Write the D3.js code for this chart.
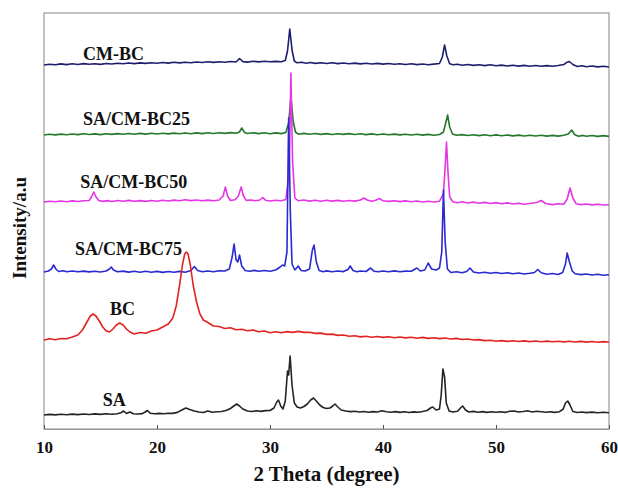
<!DOCTYPE html>
<html>
<head>
<meta charset="utf-8">
<script src="https://cdn.jsdelivr.net/npm/d3@7"></script>
<style>
  html, body { margin: 0; padding: 0; background: #fff; }
  svg { display: block; }
  text { font-family: "Liberation Serif", "Times New Roman", serif; font-weight: bold; fill: #111; }
</style>
</head>
<body>
<svg id="chart" width="618" height="492"></svg>
<script>
// 2 theta tick labels
const xTicks = [10, 20, 30, 40, 50, 60];

// series names, top to bottom
const names = ['CM-BC', 'SA/CM-BC25', 'SA/CM-BC50', 'SA/CM-BC75', 'BC', 'SA'];

// vertical offset of each pattern (a.u.)
const offsets = [364, 294, 227, 157, 89, 14];

// [2theta, intensity above offset]
const cmbc = [
  [10,0],[10.5,0.8],[11,0.2],[11.5,1.1],[12,0.4],[12.5,1.2],[13,0.5],[13.5,1.4],[14,0.7],[14.5,1.3],
  [15,0.6],[15.5,1.5],[16,1.0],[16.5,1.8],[17,1.2],[17.5,2.0],[18,1.4],[18.5,2.1],[19,1.6],[19.5,2.3],
  [20,1.7],[20.5,2.5],[21,1.9],[21.5,2.7],[22,2.1],[22.5,2.8],[23,2.3],[23.5,3.0],[24,2.5],[24.5,3.2],
  [25,2.6],[25.5,3.3],[26,2.8],[26.5,3.5],[27,3.0],[27.3,6.5],[27.6,3.4],[28,2.9],[28.5,3.7],[29,3.1],
  [29.5,3.8],[30,3.2],[30.5,3.6],[31,3.3],[31.35,4.5],[31.55,14],[31.75,36],[31.95,15],[32.15,4],[32.4,2.2],
  [32.8,2.8],[33.2,1.8],[33.6,2.5],[34,1.6],[34.5,2.3],[35,1.5],[35.5,2.2],[36,1.4],[36.5,2.0],[37,1.3],
  [37.5,1.9],[38,1.1],[38.5,1.7],[39,1.0],[39.5,1.6],[40,0.9],[40.5,1.5],[41,0.7],[41.5,1.3],[42,0.5],
  [42.5,1.2],[43,0.4],[43.5,1.0],[44,0.3],[44.5,0.9],[45,1.5],[45.25,8],[45.45,20],[45.65,9],[45.9,1.2],
  [46.2,0.2],[46.6,0.8],[47,-0.2],[47.5,0.5],[48,-0.4],[48.5,0.3],[49,-0.6],[49.5,0.2],[50,-0.8],[50.5,-0.1],
  [51,-1.0],[51.5,-0.3],[52,-1.1],[52.5,-0.4],[53,-1.2],[53.5,-0.5],[54,-1.3],[54.5,-0.6],[55,-1.2],[55.5,-0.5],
  [56,0.5],[56.3,2.8],[56.5,3.5],[56.8,0.5],[57.2,-1.5],[57.6,-0.8],[58,-1.7],[58.5,-1.0],[59,-1.9],[59.5,-1.2],[60,-2.0]
];

const sacmbc25 = [
  [10,0],[10.5,0.7],[11,0.1],[11.5,0.9],[12,0.3],[12.5,1.0],[13,0.4],[13.5,1.2],[14,0.5],[14.5,1.1],
  [15,0.4],[15.5,1.3],[16,0.6],[16.5,1.4],[17,0.7],[17.5,1.5],[18,0.8],[18.5,1.6],[19,0.9],[19.5,1.7],
  [20,1.0],[20.5,1.8],[21,1.1],[21.5,1.9],[22,1.2],[22.5,2.0],[23,1.3],[23.5,2.1],[24,1.4],[24.5,2.2],
  [25,1.5],[25.5,2.3],[26,1.6],[26.5,2.4],[27,1.7],[27.3,3],[27.5,7],[27.75,2.5],[28,1.5],[28.5,2.3],
  [29,1.4],[29.5,2.2],[30,1.3],[30.5,2.1],[31,1.4],[31.4,2.5],[31.65,12],[31.85,38],[32.05,14],[32.25,3],
  [32.5,0.8],[33,1.6],[33.5,0.7],[34,1.5],[34.5,0.6],[35,1.4],[35.5,0.5],[36,1.3],[36.5,0.6],[37,1.4],
  [37.5,0.5],[38,1.2],[38.5,0.4],[39,1.1],[39.5,0.3],[40,1.0],[40.5,0.2],[41,0.9],[41.5,0.1],[42,0.8],
  [42.5,0],[43,0.7],[43.5,-0.1],[44,0.6],[44.5,-0.2],[45,0.5],[45.35,3],[45.55,12],[45.72,20],[45.9,8],
  [46.15,1],[46.5,-0.3],[47,0.4],[47.5,-0.5],[48,0.3],[48.5,-0.6],[49,0.2],[49.5,-0.7],[50,0.1],[50.5,-0.8],
  [51,0],[51.5,-0.9],[52,-0.1],[52.5,-1.0],[53,-0.2],[53.5,-1.0],[54,-0.3],[54.5,-1.1],[55,-0.4],[55.5,-1.1],
  [56,-0.3],[56.4,1],[56.7,5],[56.95,0.5],[57.3,-1.2],[57.7,-0.4],[58,-1.3],[58.5,-0.5],[59,-1.4],[59.5,-0.6],[60,-1.4]
];

const sacmbc50 = [
  [10,0],[10.5,0.8],[11,0.2],[11.5,1.0],[12,0.3],[12.5,1.1],[13,0.5],[13.5,1.3],[14,1.5],[14.2,5],
  [14.4,10],[14.6,5],[14.85,1.5],[15.2,0.6],[15.6,1.4],[16,0.5],[16.5,1.5],[17,0.8],[17.5,1.6],[18,0.7],
  [18.5,1.4],[19,0.6],[19.5,1.5],[20,0.8],[20.5,1.7],[21,1.0],[21.5,1.9],[22,1.2],[22.5,2.2],[23,1.4],
  [23.5,2.0],[24,1.2],[24.5,1.9],[25,1.3],[25.5,2.0],[25.85,6],[26.05,15],[26.25,6],[26.5,1.5],[26.9,2.2],
  [27.2,6],[27.45,15],[27.65,6],[27.9,1.6],[28.3,2.0],[28.7,1.2],[29.1,2.0],[29.35,4.5],[29.6,1.8],[30,1.0],
  [30.5,1.8],[31,1.2],[31.4,2.5],[31.7,30],[31.85,129],[32.0,40],[32.2,4],[32.5,1.2],[33,2.0],[33.5,0.9],
  [34,1.8],[34.5,0.8],[35,1.7],[35.5,0.9],[36,1.6],[36.5,0.8],[37,1.5],[37.5,0.9],[38,2.0],[38.3,4],
  [38.6,2.0],[39,0.8],[39.4,2.0],[39.7,3.5],[40,1.2],[40.5,0.6],[41,1.3],[41.5,0.4],[42,1.1],[42.5,0.2],
  [43,1.0],[43.5,0],[44,0.8],[44.5,0],[45,0.8],[45.35,8],[45.5,35],[45.62,60],[45.75,30],[45.9,5],
  [46.2,0],[46.6,-0.8],[47,0.2],[47.5,-1.0],[48,-0.1],[48.5,-1.3],[49,-0.4],[49.5,-1.5],[50,-0.6],[50.5,-1.8],
  [51,-0.9],[51.5,-2.0],[52,-1.2],[52.5,-2.2],[53,-1.5],[53.6,-0.5],[54,1.5],[54.4,-1.5],[55,-2.6],[55.5,-1.8],
  [56,-2.2],[56.3,3],[56.55,14],[56.8,4],[57.1,-1.8],[57.5,-2.6],[58,-2.0],[58.5,-2.9],[59,-2.2],[59.5,-3.0],[60,-2.8]
];

const sacmbc75 = [
  [10,0],[10.4,1.0],[10.65,3],[10.85,7],[11.05,3],[11.3,0.5],[11.7,1.2],[12,0.3],[12.5,1.0],[13,0.2],
  [13.5,0.9],[14,0.1],[14.5,0.8],[15,0],[15.5,1.0],[15.8,3],[15.95,5],[16.15,2],[16.5,0.2],[17,0.9],
  [17.5,-0.1],[18,0.8],[18.5,-0.2],[19,0.7],[19.5,-0.3],[20,0.6],[20.5,-0.4],[21,0.5],[21.5,-0.3],[22,0.6],
  [22.5,-0.2],[23,1.5],[23.3,5.5],[23.6,1.5],[24,0.2],[24.5,1.0],[25,0.3],[25.5,1.2],[26,1.0],[26.4,3],
  [26.65,15],[26.82,28],[27.0,12],[27.15,10],[27.3,17],[27.5,6],[27.8,1.5],[28.2,0.8],[28.6,1.6],[29,0.7],
  [29.5,1.5],[30,0.8],[30.5,2.0],[30.9,5],[31.1,7],[31.3,6],[31.5,20],[31.65,154],[31.8,60],[31.95,8],
  [32.2,2],[32.5,6],[32.75,1.5],[33.1,1.0],[33.5,3],[33.75,22],[33.9,27],[34.1,10],[34.35,1.5],[34.7,0.3],
  [35,1.1],[35.5,0.2],[36,1.0],[36.5,0.4],[36.9,2.5],[37.1,6],[37.35,1.5],[37.7,0.3],[38,1.0],[38.5,0.5],
  [38.9,4],[39.2,0.8],[39.6,0.2],[40,1.0],[40.5,0.3],[41,1.1],[41.5,0.2],[42,0.9],[42.5,0.8],[43.0,4],
  [43.3,1.0],[43.7,2],[44.0,9],[44.3,3],[44.7,2],[45.0,4],[45.2,20],[45.35,82],[45.5,30],[45.7,3],
  [46,-0.5],[46.5,0.3],[47,-0.8],[47.4,0.5],[47.7,4],[48,0],[48.5,-1.0],[49,-0.2],[49.5,-1.2],[50,-0.5],
  [50.5,-1.5],[51,-0.8],[51.5,-1.8],[52,-1.0],[52.5,-2.0],[53,-1.3],[53.4,-0.5],[53.7,2.5],[54,-0.8],[54.5,-2.2],
  [55,-1.5],[55.5,-2.5],[55.9,-0.5],[56.15,8],[56.3,19],[56.5,10],[56.75,1],[57,-1.8],[57.5,-2.6],[58,-2.0],
  [58.5,-3.0],[59,-2.3],[59.5,-3.2],[60,-2.8]
];

const bc = [
  [10,0],[10.5,1.2],[11,0.3],[11.5,1.5],[12,1.2],[12.5,3],[13,5],[13.4,10],[13.8,18],[14.1,24],
  [14.35,26],[14.6,24],[14.9,19],[15.2,13],[15.5,9],[15.8,8],[16.1,11],[16.4,15],[16.7,17],[17.0,15],
  [17.3,11],[17.6,8],[18.0,6],[18.5,7.5],[19.0,6.8],[19.5,9],[20,10],[20.5,13],[21,16],[21.4,22],
  [21.7,34],[22.0,55],[22.25,75],[22.45,86],[22.6,88],[22.75,86],[22.95,75],[23.2,55],[23.5,38],[23.8,26],
  [24.1,20],[24.5,17.5],[25,14],[25.5,13.5],[26,11.5],[26.5,12.2],[27,10.2],[27.5,10.8],[28,9.2],[28.5,9.9],
  [29,8.3],[29.5,9.0],[30,7.3],[30.5,8.2],[31,7.2],[31.5,8.4],[32,7.6],[32.5,8.6],[33,7.6],[33.5,7.8],
  [34,6.6],[34.5,6.9],[35,5.6],[35.5,5.9],[36,4.6],[36.5,5.0],[37,3.7],[37.5,4.2],[38,3.1],[38.5,3.8],
  [39,2.8],[39.5,3.5],[40,2.6],[40.5,3.2],[41,2.3],[41.5,3.0],[42,2.1],[42.5,2.8],[43,1.8],[43.5,2.6],
  [44,1.6],[44.5,2.3],[45,1.4],[45.5,2.0],[46,1.0],[46.5,1.6],[47,0.5],[47.5,1.0],[48,0],[48.5,0.4],
  [49,-0.6],[49.5,-0.2],[50,-1.2],[50.5,-0.6],[51,-1.4],[51.5,-0.8],[52,-1.5],[52.5,-0.9],[53,-1.6],[53.5,-1.0],
  [54,-1.7],[54.5,-1.1],[55,-1.8],[55.5,-1.2],[56,-1.9],[56.5,-1.3],[57,-2.0],[57.5,-1.4],[58,-2.1],[58.5,-1.5],
  [59,-2.2],[59.5,-1.6],[60,-2.2]
];

const sa = [
  [10,0],[10.5,0.6],[11,0.1],[11.5,0.8],[12,0.3],[12.5,0.9],[13,0.4],[13.5,1.0],[14,0.5],[14.5,1.1],
  [15,0.6],[15.5,1.2],[16,0.7],[16.5,1.3],[16.85,2.5],[17.05,4],[17.3,1.5],[17.6,3],[17.9,1.2],[18.3,1.0],
  [18.7,1.4],[18.95,3],[19.15,4.5],[19.4,1.8],[19.8,1.2],[20.2,1.6],[20.6,1.2],[21,1.8],[21.4,1.6],[21.8,2.6],
  [22.2,5],[22.55,7],[22.9,5.5],[23.3,4],[23.7,3],[24.1,2.5],[24.5,4],[24.9,2.8],[25.3,3.2],[25.7,3.5],
  [26.1,4.5],[26.5,6.5],[26.8,9],[27.05,11],[27.3,9],[27.6,6],[28,4],[28.4,3.5],[28.8,4.2],[29.2,3.6],
  [29.6,4.4],[30,4.5],[30.35,7],[30.6,13],[30.75,15],[30.95,9],[31.15,6],[31.35,14],[31.55,44],[31.65,40],
  [31.78,59],[31.95,30],[32.15,12],[32.4,8],[32.7,7],[33,8.5],[33.3,11],[33.6,15],[33.85,17],[34.1,14],
  [34.4,10],[34.7,7.5],[35,6.5],[35.3,7],[35.55,9],[35.75,11],[36,8],[36.3,5],[36.7,4],[37.1,3.4],
  [37.5,3.8],[37.9,3.0],[38.3,3.5],[38.7,2.8],[39.1,3.4],[39.5,3.0],[39.9,4.2],[40.3,3.3],[40.7,2.8],[41.1,3.4],
  [41.5,2.6],[41.9,3.2],[42.3,2.5],[42.7,3.1],[43.1,2.8],[43.5,3.5],[43.9,4.5],[44.2,7],[44.4,8],[44.7,5],
  [45,6],[45.15,20],[45.3,46],[45.45,38],[45.6,12],[45.85,4],[46.2,3],[46.6,3.8],[46.85,7],[47.05,9],
  [47.3,5],[47.6,3],[48,3.6],[48.4,2.8],[48.8,3.4],[49.2,2.6],[49.6,3.3],[50,2.7],[50.4,3.2],[50.8,2.6],
  [51.2,3.8],[51.6,4.0],[52,3.0],[52.4,3.5],[52.8,4.2],[53.2,3.0],[53.6,3.8],[54,3.2],[54.4,2.7],[54.8,3.3],
  [55.2,2.6],[55.6,3.2],[55.95,6],[56.15,12],[56.35,14],[56.55,10],[56.8,3.5],[57.2,2.5],[57.6,3.0],[58,2.4],
  [58.5,2.9],[59,2.2],[59.5,2.8],[60,2.3]
];

const patterns = [cmbc, sacmbc25, sacmbc50, sacmbc75, bc, sa];

const colors = ['#1e1e6e', '#23782b', '#e535e5', '#2a2ad2', '#e32222', '#242424'];

// where each series name sits: [2theta, intensity]
const labelAnchors = [[13.45, 369], [13.45, 304], [13.2, 241], [12.75, 174], [15.85, 114], [15.2, 23]];

const margin = {top: 13, right: 9, bottom: 63, left: 44};
const width = 618 - margin.left - margin.right;
const height = 492 - margin.top - margin.bottom;

const svg = d3.select('#chart');
const g = svg.append('g')
  .attr('transform', `translate(${margin.left},${margin.top})`);

const x = d3.scaleLinear().domain([10, 60]).range([0, width]);
const y = d3.scaleLinear().domain([0, 416]).range([height, 0]);

// frame
g.append('rect')
  .attr('x', 0)
  .attr('y', 0)
  .attr('width', width)
  .attr('height', height)
  .attr('fill', 'none')
  .attr('stroke', '#999')
  .attr('stroke-width', 1.2);

const line = d3.line()
  .x(function (d) { return x(d[0]); })
  .y(function (d) { return y(d[1] + d.offset); });

patterns.forEach(function (pts, i) {
  const shifted = pts.map(function (p) {
    const q = [p[0], p[1]];
    q.offset = offsets[i];
    return q;
  });
  g.append('path')
    .datum(shifted)
    .attr('fill', 'none')
    .attr('stroke', colors[i])
    .attr('stroke-width', 1.6)
    .attr('stroke-linejoin', 'round')
    .attr('d', line);
});

g.selectAll('.series-label')
  .data(names)
  .enter().append('text')
  .attr('class', 'series-label')
  .attr('x', function (d, i) { return x(labelAnchors[i][0]); })
  .attr('y', function (d, i) { return y(labelAnchors[i][1]); })
  .attr('font-size', 18)
  .text(function (d) { return d; });

// bottom axis, ticks pointing inward
const xAxis = d3.axisBottom(x)
  .tickValues(xTicks)
  .tickSizeInner(-4)
  .tickSizeOuter(0)
  .tickPadding(12)
  .tickFormat(d3.format('d'));

const axisG = g.append('g')
  .attr('transform', `translate(0,${height})`)
  .call(xAxis);

axisG.select('.domain')
  .attr('stroke', '#999')
  .attr('stroke-width', 1.2);
axisG.selectAll('.tick line')
  .attr('stroke', '#555');
axisG.selectAll('.tick text')
  .attr('font-family', '"Liberation Serif", "Times New Roman", serif')
  .attr('font-weight', 'bold')
  .attr('font-size', 17)
  .attr('fill', '#111');

svg.append('text')
  .attr('x', margin.left + width / 2)
  .attr('y', 481)
  .attr('text-anchor', 'middle')
  .attr('font-size', 21)
  .text('2 Theta (degree)');

svg.append('text')
  .attr('transform', 'translate(26,228) rotate(-90)')
  .attr('text-anchor', 'middle')
  .attr('font-size', 19)
  .text('Intensity/a.u');
</script>
</body>
</html>
